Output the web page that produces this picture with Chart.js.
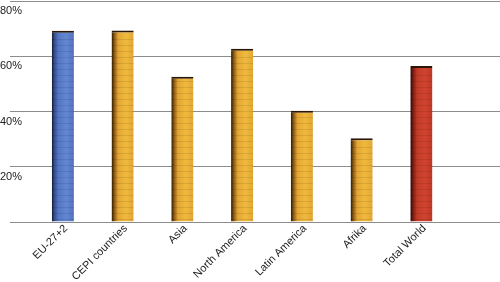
<!DOCTYPE html>
<html>
<head>
<meta charset="utf-8">
<script src="https://cdn.jsdelivr.net/npm/chart.js@4"></script>
<style>
  html, body { margin: 0; padding: 0; background: #fff; overflow: hidden; width: 500px; height: 282px; }
  #wrap { position: relative; width: 511px; height: 282px; }
</style>
</head>
<body>
<div id="wrap"><canvas id="myChart"></canvas></div>
<script>
const categories = ['EU-27+2', 'CEPI countries', 'Asia', 'North America', 'Latin America', 'Afrika', 'Total World'];
const shares = [69.2, 69.3, 52.6, 62.7, 40.3, 30.3, 56.5];
const barKinds = ['blue', 'gold', 'gold', 'gold', 'gold', 'gold', 'red'];
const yTicks = [0, 20, 40, 60, 80];

const palette = {
  blue: ['#161c34', '#34508e', '#5576c4', '#6387d2', '#5473c0'],
  gold: ['#2e1800', '#8a5812', '#e3a733', '#f0b93d', '#e2a734'],
  red:  ['#2a0805', '#7a1b11', '#c23a28', '#cf442f', '#bf3725']
};

const ctx = document.getElementById('myChart');

function barFill (context) {
  const chart = context.chart;
  const x = chart.scales.x;
  if (!chart.chartArea || !x) return '#e2a734';
  const c = x.getPixelForValue(context.dataIndex);
  const cols = palette[barKinds[context.dataIndex]];
  const g = chart.ctx.createLinearGradient(c - 11, 0, c + 11, 0);
  g.addColorStop(0, cols[0]);
  g.addColorStop(0.12, cols[1]);
  g.addColorStop(0.3, cols[2]);
  g.addColorStop(0.65, cols[3]);
  g.addColorStop(1, cols[4]);
  return g;
}

// faint horizontal banding on the bars, like the original picture
const stripes = {
  id: 'stripes',
  afterDatasetsDraw (chart) {
    const c = chart.ctx;
    const meta = chart.getDatasetMeta(0);
    c.save();
    c.strokeStyle = 'rgba(0,0,0,0.09)';
    c.lineWidth = 1;
    meta.data.forEach(bar => {
      const p = bar.getProps(['x', 'y', 'base', 'width'], true);
      const l = p.x - p.width / 2, r = p.x + p.width / 2;
      c.beginPath();
      for (let yy = p.base - 3; yy > p.y + 3; yy -= 6) {
        c.moveTo(l, Math.round(yy) + 0.5);
        c.lineTo(r, Math.round(yy) + 0.5);
      }
      c.stroke();
    });
    c.restore();
  }
};

new Chart(ctx, {
  type: 'bar',
  data: {
    labels: [...categories, ''],
    datasets: [{
      data: shares,
      backgroundColor: barFill,
      borderColor: '#2a1606',
      borderWidth: { top: 2, left: 0, right: 0, bottom: 0 },
      borderSkipped: 'bottom',
      categoryPercentage: 1,
      barPercentage: 0.37
    }]
  },
  options: {
    responsive: true,
    maintainAspectRatio: false,
    animation: false,
    layout: { padding: { top: 1, right: 0, bottom: 0, left: 0 } },
    plugins: {
      legend: { display: false },
      tooltip: { enabled: false }
    },
    scales: {
      x: {
        grid: { display: false },
        border: { display: true, color: '#8c8c8c', width: 1 },
        afterFit: (axis) => { axis.height = 60; },
        ticks: {
          color: '#222',
          font: { family: '"Liberation Sans", Arial, sans-serif', size: 11 },
          minRotation: 45,
          maxRotation: 45,
          autoSkip: false,
          padding: -8,
          labelOffset: 3
        }
      },
      y: {
        min: 0,
        max: 80,
        afterBuildTicks: (axis) => { axis.ticks = yTicks.map(v => ({ value: v })); },
        afterFit: (axis) => { axis.width = 33; },
        grid: { color: '#8c8c8c', lineWidth: 1, drawTicks: true, tickLength: 23 },
        border: { display: false },
        ticks: {
          color: '#222',
          font: { family: '"Liberation Sans", Arial, sans-serif', size: 11 },
          padding: -12,
          labelOffset: 10,
          callback: (v) => v === 0 ? '' : v + '%'
        }
      }
    }
  },
  plugins: [stripes]
});
</script>
</body>
</html>
